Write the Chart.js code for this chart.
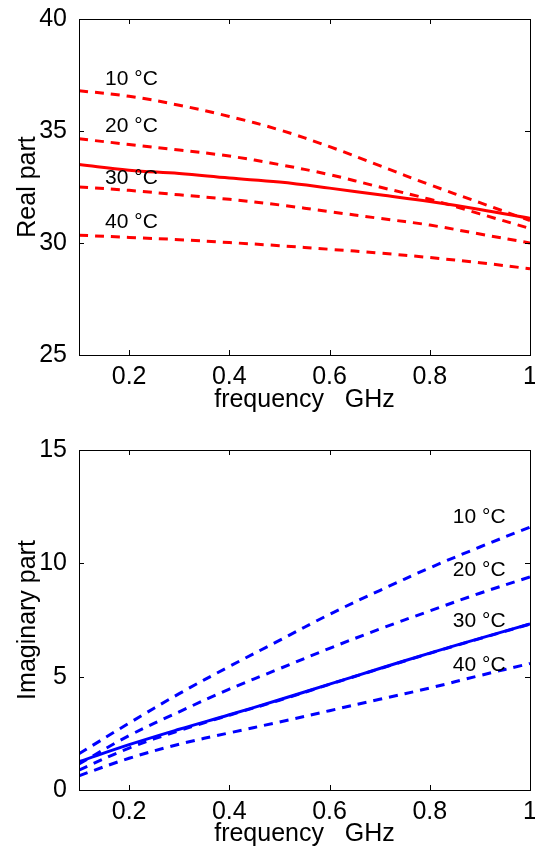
<!DOCTYPE html>
<html><head><meta charset="utf-8">
<script src="https://cdn.jsdelivr.net/npm/chart.js@4.4.0/dist/chart.umd.min.js"></script>
<style>
html,body{margin:0;padding:0;background:#fff;overflow:hidden;width:535px;height:848px}
canvas{display:block}
</style></head>
<body>
<canvas id="c1" width="545" height="424"></canvas>
<canvas id="c2" width="545" height="424"></canvas>
<script>
// ---- data ----
const freq = [0.1, 0.2, 0.3, 0.4, 0.5, 0.6, 0.7, 0.8, 0.9, 1.0];

const real10 = [36.8, 36.55, 36.15, 35.65, 35.05, 34.3, 33.45, 32.6, 31.8, 31.0];
const real20 = [34.65, 34.4, 34.15, 33.88, 33.5, 33.05, 32.5, 31.95, 31.3, 30.65];
const real30 = [32.5, 32.35, 32.15, 31.95, 31.7, 31.4, 31.1, 30.8, 30.4, 30.0];
const real40 = [30.35, 30.25, 30.15, 30.02, 29.88, 29.72, 29.55, 29.35, 29.12, 28.85];
const real30solid = [33.5, 33.25, 33.1, 32.9, 32.72, 32.45, 32.15, 31.85, 31.5, 31.1];

const imag10 = [1.6, 2.95, 4.25, 5.45, 6.6, 7.75, 8.8, 9.8, 10.72, 11.6];
const imag20 = [1.15, 2.4, 3.45, 4.45, 5.35, 6.25, 7.1, 7.9, 8.68, 9.4];
const imag30 = [0.88, 1.85, 2.62, 3.3, 3.96, 4.66, 5.35, 6.03, 6.68, 7.32];
const imag40 = [0.63, 1.4, 2.02, 2.52, 3.0, 3.5, 4.0, 4.5, 5.05, 5.58];
const imag30solid = [1.25, 2.0, 2.68, 3.32, 3.98, 4.67, 5.36, 6.04, 6.69, 7.33];

const xTicks = [0.2, 0.4, 0.6, 0.8, 1];
const realTicks = [25, 30, 35, 40];
const imagTicks = [0, 5, 10, 15];

const tempLabels = ['10 °C', '20 °C', '30 °C', '40 °C'];
const realLabelAt = { x: 0.152, y: [37.04, 34.97, 32.63, 30.65] };
const imagLabelAt = { x: 0.846, y: [11.76, 9.42, 7.18, 5.27] };

// ---- helpers ----
const FONT = 'Liberation Sans, Arial, Helvetica, sans-serif';
const pts = (ys) => freq.map((x, i) => ({ x: x, y: ys[i] }));

function ds(ys, color, dashed) {
  return {
    data: pts(ys),
    borderColor: color,
    borderWidth: 3,
    borderDash: dashed ? [9, 7] : [],
    pointRadius: 0,
    fill: false,
    tension: 0.4
  };
}

const boxPlugin = {
  id: 'boxTicks',
  afterDraw(chart) {
    const ctx = chart.ctx, a = chart.chartArea;
    const xs = chart.scales.x, ys = chart.scales.y;
    ctx.save();
    ctx.strokeStyle = '#000';
    ctx.lineWidth = 1;
    ctx.strokeRect(Math.round(a.left) + 0.5, Math.round(a.top) + 0.5,
      Math.round(a.right - a.left), Math.round(a.bottom - a.top));
    const L = 5;
    ctx.beginPath();
    xs.ticks.forEach(t => {
      const px = Math.round(xs.getPixelForValue(t.value)) + 0.5;
      ctx.moveTo(px, a.bottom); ctx.lineTo(px, a.bottom - L);
      ctx.moveTo(px, a.top); ctx.lineTo(px, a.top + L);
    });
    ys.ticks.forEach(t => {
      const py = Math.round(ys.getPixelForValue(t.value)) + 0.5;
      ctx.moveTo(a.left, py); ctx.lineTo(a.left + L, py);
      ctx.moveTo(a.right, py); ctx.lineTo(a.right - L, py);
    });
    ctx.stroke();
    ctx.restore();
  }
};

function labelPlugin(at) {
  return {
    id: 'tempLabels',
    afterDatasetsDraw(chart) {
      const ctx = chart.ctx, xs = chart.scales.x, ys = chart.scales.y;
      ctx.save();
      ctx.fillStyle = '#000';
      ctx.font = '21px ' + FONT;
      ctx.textAlign = 'left';
      ctx.textBaseline = 'alphabetic';
      tempLabels.forEach((t, i) => {
        ctx.fillText(t, xs.getPixelForValue(at.x), ys.getPixelForValue(at.y[i]));
      });
      ctx.restore();
    }
  };
}

function makeChart(id, datasets, yTicks, yTitle, topPad, xHeight, xTitlePadBottom, at) {
  return new Chart(document.getElementById(id), {
    type: 'line',
    data: { datasets: datasets },
    options: {
      responsive: false,
      animation: false,
      devicePixelRatio: 1,
      layout: { padding: { top: topPad, right: 15, left: 0, bottom: 0 } },
      plugins: { legend: { display: false }, tooltip: { enabled: false } },
      scales: {
        x: {
          type: 'linear', min: 0.1, max: 1,
          grid: { display: false }, border: { display: false },
          afterBuildTicks: s => { s.ticks = xTicks.map(v => ({ value: v })); },
          afterFit: s => { s.height = xHeight; },
          ticks: {
            autoSkip: false, maxRotation: 0, padding: -1,
            color: '#000', font: { family: FONT, size: 25 },
            callback: v => String(v)
          },
          title: {
            display: true, text: 'frequency   GHz', color: '#000',
            font: { family: FONT, size: 25, lineHeight: 1 },
            padding: { top: 0, bottom: xTitlePadBottom }
          }
        },
        y: {
          type: 'linear', min: yTicks[0], max: yTicks[yTicks.length - 1],
          grid: { display: false }, border: { display: false },
          afterBuildTicks: s => { s.ticks = yTicks.map(v => ({ value: v })); },
          afterFit: s => { s.width = 79; },
          ticks: {
            autoSkip: false, padding: 4,
            color: '#000', font: { family: FONT, size: 25 },
            callback: v => String(v)
          },
          title: {
            display: true, text: yTitle, color: '#000',
            font: { family: FONT, size: 25, lineHeight: 1 },
            padding: { top: 16, bottom: 0 }
          }
        }
      }
    },
    plugins: [boxPlugin, labelPlugin(at)]
  });
}

const RED = '#ff0000', BLUE = '#0000ff';

makeChart('c1', [
  ds(real10, RED, true), ds(real20, RED, true), ds(real30, RED, true),
  ds(real40, RED, true), ds(real30solid, RED, false)
], realTicks, 'Real part', 15, 69, 11, realLabelAt);

makeChart('c2', [
  ds(imag10, BLUE, true), ds(imag20, BLUE, true), ds(imag30, BLUE, true),
  ds(imag40, BLUE, true), ds(imag30solid, BLUE, false)
], imagTicks, 'Imaginary part', 26, 58, 1, imagLabelAt);
</script>
</body></html>
